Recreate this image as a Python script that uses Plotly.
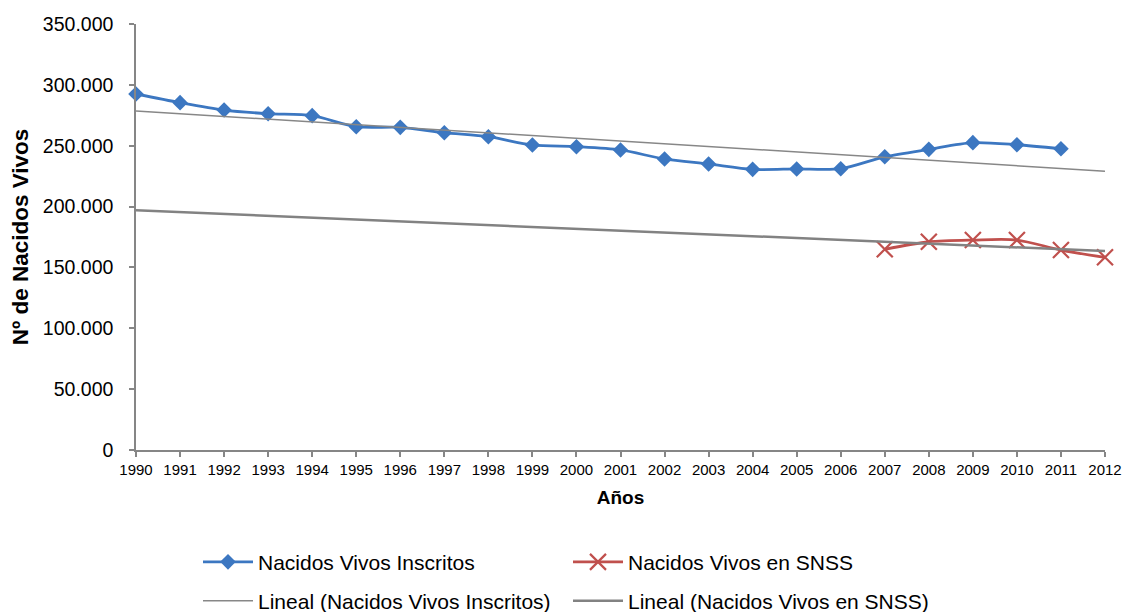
import numpy as np
import plotly.graph_objects as go

# Live births registered per year, and births in the SNSS register
years = list(range(1990, 2013))
inscritos_years = list(range(1990, 2012))
inscritos = [292500, 285400, 279300, 276300, 274700, 265600, 265100, 260700,
             257400, 250600, 249200, 246500, 239100, 235000, 230600, 230900,
             231100, 240900, 247000, 252500, 250800, 247500]
snss_years = [2007, 2008, 2009, 2010, 2011, 2012]
snss = [164900, 171100, 172500, 172500, 164300, 158300]

y_ticks = [0, 50000, 100000, 150000, 200000, 250000, 300000, 350000]
x_ticktext = [str(y) for y in years]

FONT = "Liberation Sans, Arial, sans-serif"
AXIS_GREY = "#868686"
BLUE = "#3C77C1"
RED = "#C0504D"

# Least-squares linear trends, drawn across the whole year axis
trend_x = [years[0], years[-1]]
p_ins = np.polyfit(inscritos_years, inscritos, 1)
p_snss = np.polyfit(snss_years, snss, 1)
trend_ins = np.polyval(p_ins, trend_x)
trend_snss = np.polyval(p_snss, trend_x)

fig = go.Figure()

fig.add_trace(go.Scatter(
    x=inscritos_years, y=inscritos, name="Nacidos Vivos Inscritos",
    mode="lines+markers",
    line=dict(color=BLUE, width=2.8, shape="spline", smoothing=0.8),
    marker=dict(symbol="diamond", size=12, color=BLUE),
    cliponaxis=False, legend="legend",
))
fig.add_trace(go.Scatter(
    x=snss_years, y=snss, name="Nacidos Vivos en SNSS",
    mode="lines+markers",
    line=dict(color=RED, width=2.8, shape="spline", smoothing=0.8),
    marker=dict(symbol="x-thin", size=16, color=RED,
                line=dict(color=RED, width=2.2)),
    cliponaxis=False, legend="legend",
))
fig.add_trace(go.Scatter(
    x=trend_x, y=trend_ins, name="Lineal (Nacidos Vivos Inscritos)",
    mode="lines", line=dict(color="#878787", width=1.5),
    cliponaxis=False, legend="legend2",
))
fig.add_trace(go.Scatter(
    x=trend_x, y=trend_snss, name="Lineal (Nacidos Vivos en SNSS)",
    mode="lines", line=dict(color="#828282", width=2.5),
    cliponaxis=False, legend="legend2",
))

legend_common = dict(
    orientation="h", xanchor="left", yanchor="top",
    x=(198 - 136) / 969,
    entrywidth=305, entrywidthmode="pixels", itemwidth=50,
    font=dict(family=FONT, size=21, color="#000000"),
    bgcolor="rgba(0,0,0,0)", borderwidth=0,
)

fig.update_layout(
    width=1125, height=612, autosize=False,
    margin=dict(l=136, r=20, t=24, b=162, autoexpand=False),
    paper_bgcolor="white", plot_bgcolor="white",
    separators=",.",
    font=dict(family=FONT, color="#000000"),
    showlegend=True,
    legend=dict(legend_common, y=-(541.7 - 450) / 426),
    legend2=dict(legend_common, y=-(580.7 - 450) / 426),
    xaxis=dict(
        range=[1990, 2012], tickvals=years, ticktext=x_ticktext,
        ticks="outside", ticklen=5, tickwidth=1.5, tickcolor=AXIS_GREY,
        showline=True, linecolor=AXIS_GREY, linewidth=1.5,
        showgrid=False, zeroline=False,
        tickfont=dict(family=FONT, size=15, color="#000000"),
        title=dict(text="Años", standoff=14,
                   font=dict(family=FONT, size=19, weight="bold")),
    ),
    yaxis=dict(
        range=[0, 350000], tickvals=y_ticks, tickformat=",d",
        ticks="outside", ticklen=5, tickwidth=1.5, tickcolor=AXIS_GREY,
        showline=True, linecolor=AXIS_GREY, linewidth=1.5,
        showgrid=False, zeroline=False,
        ticklabelstandoff=12,
        tickfont=dict(family=FONT, size=19.5, color="#000000"),
        title=dict(text="Nº de Nacidos Vivos", standoff=8,
                   font=dict(family=FONT, size=22.5, weight="bold")),
    ),
)

fig.write_html("out.html")
